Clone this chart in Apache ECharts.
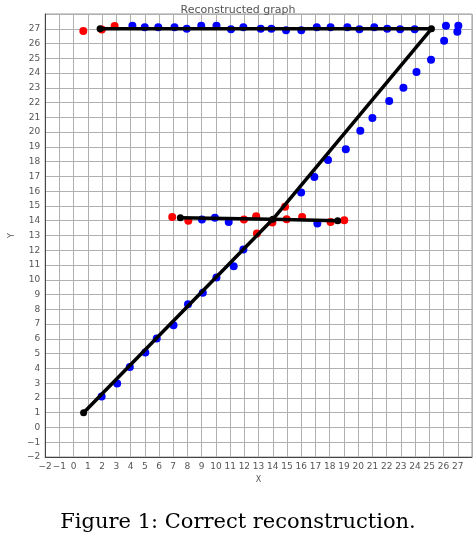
<!DOCTYPE html>
<html>
<head>
<meta charset="utf-8">
<script src="https://cdn.jsdelivr.net/npm/echarts@6/dist/echarts.min.js"></script>
<style>html,body{margin:0;padding:0;background:#fff;}#c{width:476px;height:538px;}</style>
</head>
<body>
<div id="c"></div>
<script>
// Blue observed points
const blueX = [1.97, 3.06, 3.95, 5.04, 5.84, 7.02, 8.04, 9.08, 10.04, 11.25, 11.93,
  15.99, 16.92, 17.88, 19.13, 20.15, 21.0, 22.18, 23.18, 24.1, 25.12, 26.04,
  4.13, 5.0, 5.95, 7.09, 7.95, 8.97, 10.04, 11.06, 11.93, 13.15, 13.9, 14.93, 16.0, 17.09, 18.06, 19.24, 20.09, 21.13, 22.04, 22.95, 23.97, 26.17, 27.04, 26.97,
  9.02, 9.93, 10.9, 17.13];
const blueY = [2.1, 2.97, 4.1, 5.08, 6.02, 6.93, 8.35, 9.12, 10.15, 10.92, 12.06,
  15.92, 16.97, 18.12, 18.84, 20.1, 20.96, 22.1, 23.0, 24.07, 24.9, 26.19,
  27.2, 27.1, 27.1, 27.1, 27.0, 27.2, 27.2, 26.96, 27.1, 27.0, 27.0, 26.9, 26.9, 27.1, 27.1, 27.1, 26.96, 27.1, 27.0, 26.96, 26.96, 27.2, 27.2, 26.8,
  14.09, 14.2, 13.92, 13.82];
// Red points
const redX = [0.68, 1.98, 2.88, 6.93, 8.06, 11.97, 12.83, 13.97, 14.97, 16.06, 18.06, 19.02, 12.88, 14.86];
const redY = [26.85, 26.95, 27.18, 14.26, 14.0, 14.09, 14.31, 13.88, 14.1, 14.26, 13.92, 14.03, 13.14, 14.94];
// Reconstructed graph nodes and edges
const nodeX = [0.7, 14.0, 25.15, 1.86, 7.5, 18.56];
const nodeY = [1.0, 14.1, 27.0, 27.0, 14.2, 14.0];
const edgeFrom = [0, 1, 2, 4, 1];
const edgeTo = [1, 2, 3, 1, 5];
// Axis ticks
const axisMin = -2, axisMax = 28, tickStep = 1;

const zip = (a, b) => a.map((v, i) => [v, b[i]]);
const fmt = v => v === axisMax ? '' : String(v).replace('-', '\u2212');

const series = [
  { type: 'scatter', data: zip(blueX, blueY), symbolSize: 8, itemStyle: { color: '#0000ff', opacity: 1 }, z: 2 },
  { type: 'scatter', data: zip(redX, redY), symbolSize: 8, itemStyle: { color: '#ff0000', opacity: 1 }, z: 3 }
];
edgeFrom.forEach((f, i) => {
  const t = edgeTo[i];
  series.push({ type: 'line', data: [[nodeX[f], nodeY[f]], [nodeX[t], nodeY[t]]], showSymbol: false,
    lineStyle: { color: '#000', width: 3.5 }, z: 4, silent: true, animation: false });
});
series.push({ type: 'scatter', data: zip(nodeX, nodeY), symbolSize: 7, itemStyle: { color: '#000', opacity: 1 }, z: 5 });

const axisCommon = {
  type: 'value', min: axisMin, max: axisMax, interval: tickStep,
  axisLabel: { formatter: fmt, fontSize: 9, color: '#555', fontFamily: 'DejaVu Sans', margin: 5 },
  axisTick: { show: false },
  axisLine: { show: true, onZero: false, lineStyle: { color: '#444', width: 1 } },
  splitLine: { show: true, lineStyle: { color: '#b0b0b0', width: 1 } },
  nameLocation: 'middle',
  nameTextStyle: { fontSize: 8, color: '#555', fontFamily: 'DejaVu Sans' }
};

const chart = echarts.init(document.getElementById('c'), null, { renderer: 'canvas' });
chart.setOption({
  animation: false,
  backgroundColor: '#fff',
  title: { text: 'Reconstructed graph', left: 'center', top: 0,
    textStyle: { fontSize: 11, fontWeight: 'normal', color: '#555', fontFamily: 'DejaVu Sans' } },
  grid: { left: 32, right: 4, top: 14, bottom: 81, show: true, borderColor: '#999', borderWidth: 1, containLabel: false },
  xAxis: Object.assign({}, axisCommon, { name: 'X', nameGap: 16 }),
  yAxis: Object.assign({}, axisCommon, { name: 'Y', nameGap: 23 }),
  graphic: [{ type: 'text', left: 'center', top: 512,
    style: { text: 'Figure 1: Correct reconstruction.', font: '21px "DejaVu Serif"', fill: '#000' } }],
  series: series
});
</script>
</body>
</html>
